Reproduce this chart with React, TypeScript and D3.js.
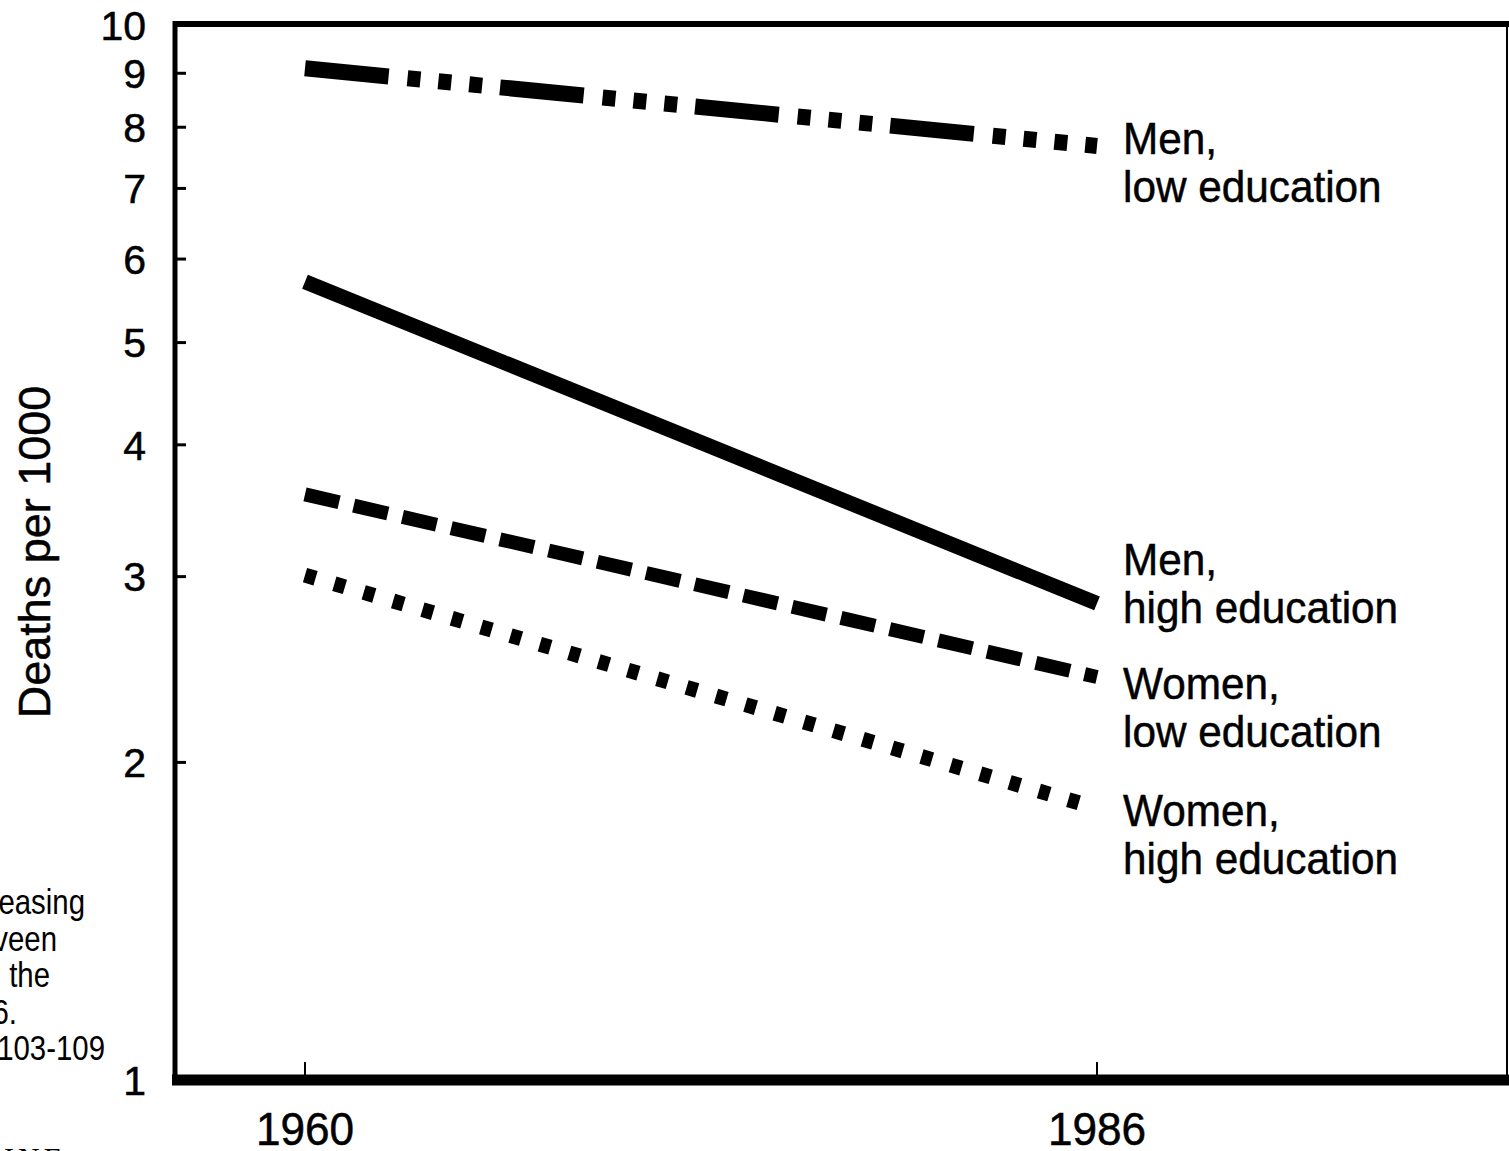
import React from "react";
import * as d3 from "d3";

// ---- data ----
const years = [1960, 1986];
const seriesKeys = ["menLow", "menHigh", "womenLow", "womenHigh"];
const seriesLabels = [
  ["Men,", "low education"],
  ["Men,", "high education"],
  ["Women,", "low education"],
  ["Women,", "high education"],
];
const menLow = [9.1, 7.68];
const menHigh = [5.71, 2.83];
const womenLow = [3.59, 2.41];
const womenHigh = [3.01, 1.81];
const yTickValues = [1, 2, 3, 4, 5, 6, 7, 8, 9, 10];
const yTickLabels = ["1", "2", "3", "4", "5", "6", "7", "8", "9", "10"];
const xTickValues = [1960, 1986];
const xTickLabels = ["1960", "1986"];
const yAxisTitle = "Deaths per 1000";
const sideFragments = ["easing", "veen", "the", "6.", "103-109"];
const bottomFragment = "LINE";

// ---- styles / layout (not data) ----
const seriesValues = [menLow, menHigh, womenLow, womenHigh];
const seriesStroke = [16, 15, 14, 15];
const seriesDash = [
  "84 19 13 18 13 18 13 18",
  null,
  "35 15",
  "11 19.6",
];
const labelDy = [8, -28, 22, 18];
const fragmentRight = [85, 57, 50, 17, 105];

const W = 1509;
const H = 1151;
const FONT = "'Liberation Sans', Arial, Helvetica, sans-serif";

export default function App() {
  const x = d3.scaleLinear().domain([1960, 1986]).range([305, 1097]);
  const y = d3.scaleLog().domain([1, 10]).range([1080, 25]);
  const line = d3
    .line<[number, number]>()
    .x((d) => x(d[0]))
    .y((d) => y(d[1]));

  const left = 175;
  const top = 24;
  const bottom = 1080;
  const right = 1507;
  const textStroke = { stroke: "#000", strokeWidth: 0.5 };

  return (
    <svg
      width={W}
      height={H}
      style={{ position: "absolute", left: 0, top: 0, background: "#fff" }}
    >
      <rect x={0} y={0} width={W} height={H} fill="#fff" />
      {/* frame */}
      <line x1={left - 2} x2={W} y1={top} y2={top} stroke="#000" strokeWidth={6} />
      <line x1={right} x2={right} y1={top} y2={bottom} stroke="#000" strokeWidth={2} />
      <line x1={left} x2={left} y1={top - 3} y2={bottom + 5} stroke="#000" strokeWidth={5} />
      <line x1={left - 3} x2={W} y1={bottom} y2={bottom} stroke="#000" strokeWidth={11} />

      {/* y ticks */}
      {yTickValues.map((v, i) => (
        <g key={"yt" + i}>
          {v !== 1 && v !== 10 && (
            <line x1={left} x2={left + 11} y1={y(v)} y2={y(v)} stroke="#000" strokeWidth={3} />
          )}
          <text
            x={146}
            y={y(v)}
            dy="0.36em"
            textAnchor="end"
            fontFamily={FONT}
            fontSize={41}
            fill="#000"
            {...textStroke}
          >
            {yTickLabels[i]}
          </text>
        </g>
      ))}

      {/* x ticks */}
      {xTickValues.map((v, i) => (
        <g key={"xt" + i}>
          <line x1={x(v)} x2={x(v)} y1={bottom - 18} y2={bottom} stroke="#000" strokeWidth={2} />
          <g transform={`translate(${x(v)},${1145}) scale(0.96,1)`}>
            <text x={0} y={0} textAnchor="middle" fontFamily={FONT} fontSize={46} fill="#000" {...textStroke}>
              {xTickLabels[i]}
            </text>
          </g>
        </g>
      ))}

      {/* axis title */}
      <text
        transform={`translate(50,552) rotate(-90)`}
        textAnchor="middle"
        fontFamily={FONT}
        fontSize={45}
        fill="#000"
        {...textStroke}
      >
        {yAxisTitle}
      </text>

      {/* series */}
      {seriesKeys.map((k, i) => {
        const pts = years.map((yr, j) => [yr, seriesValues[i][j]] as [number, number]);
        return (
          <path
            key={k}
            d={line(pts) || ""}
            fill="none"
            stroke="#000"
            strokeWidth={seriesStroke[i]}
            strokeDasharray={seriesDash[i] || undefined}
            strokeLinecap="butt"
          />
        );
      })}

      {/* labels */}
      {seriesKeys.map((k, i) => {
        const endY = y(seriesValues[i][1]) + labelDy[i];
        return (
          <g key={"lab" + k} transform={`translate(1123,${endY}) scale(0.94,1)`}>
            {seriesLabels[i].map((t, j) => (
              <text
                key={j}
                x={0}
                y={j * 48}
                fontFamily={FONT}
                fontSize={45}
                fill="#000"
                {...textStroke}
              >
                {t}
              </text>
            ))}
          </g>
        );
      })}

      {/* clipped side text fragments */}
      {sideFragments.map((t, i) => (
        <g key={"sf" + i} transform={`translate(${fragmentRight[i]},${914 + i * 36.5}) scale(0.84,1)`}>
          <text x={0} y={0} textAnchor="end" fontFamily={FONT} fontSize={35} fill="#000">
            {t}
          </text>
        </g>
      ))}
      <text
        x={66}
        y={1168}
        textAnchor="end"
        fontFamily="'Liberation Serif', 'DejaVu Serif', serif"
        fontSize={30}
        letterSpacing={4}
        fill="#000"
      >
        {bottomFragment}
      </text>
    </svg>
  );
}
